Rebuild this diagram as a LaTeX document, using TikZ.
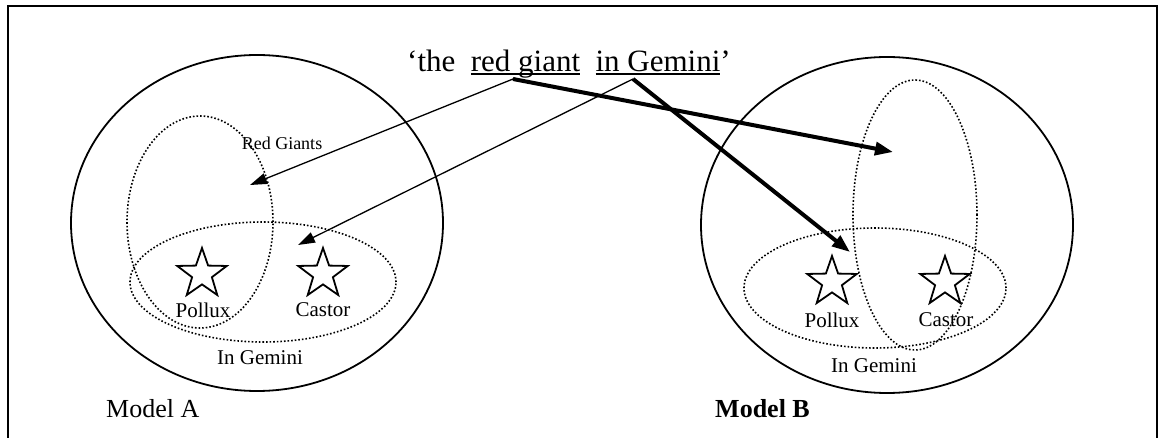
\documentclass[tikz,border=0pt]{standalone}
\usepackage{fontspec}
\setmainfont{Liberation Serif}
\usetikzlibrary{arrows.meta,shapes.geometric}
\newsavebox\ulbox
\newcommand\myul[1]{\sbox\ulbox{#1}\rlap{\rule[-0.1em]{\wd\ulbox}{0.055em}}\usebox\ulbox}
\tikzset{
  model/.style={draw, line width=1.8bp, ellipse, inner sep=0pt},
  setring/.style={draw, line width=1.6bp, dotted, ellipse, inner sep=0pt},
  starmark/.style={draw, line width=1.8bp, star, star points=5, star point ratio=2.5, minimum size=52bp, inner sep=0pt},
  lab/.style={font=\fontsize{21bp}{24bp}\selectfont, inner sep=0pt},
  ttl/.style={inner sep=0pt, anchor=base west, font=\fontsize{31bp}{36bp}\selectfont},
  mdl/.style={inner sep=0pt, anchor=base west, font=\fontsize{26bp}{30bp}\selectfont},
  thinarrow/.style={line width=1.3bp, -{Triangle[length=17bp,width=11bp]}},
  thickarrow/.style={line width=4bp, -{Triangle[length=18bp,width=13bp]}},
  frameline/.style={line width=2bp}
}
\begin{document}
\begin{tikzpicture}[x=1bp,y=-1bp]
\useasboundingbox (0,0) rectangle (1158,438);
% frame
\coordinate (f1) at (8,440);
\coordinate (f2) at (8,6);
\coordinate (f3) at (1157,6);
\coordinate (f4) at (1157,440);
\draw[frameline] (f1) -- (f2) -- (f3) -- (f4);
% title
\node[ttl] (tthe) at (407,72) {‘the};
\node[ttl] (trg) at ([xshift=15bp]tthe.base east) {\myul{red giant}};
\node[ttl] (tig) at ([xshift=15bp]trg.base east) {\myul{in Gemini}’};
% Model A
\node[model, minimum width=372bp, minimum height=336bp] (ma) at (257,223) {};
\node[setring, minimum width=146bp, minimum height=212bp] (redA) at (200,222) {};
\node[setring, minimum width=266bp, minimum height=120bp] (gemA) at (263,282) {};
\node[lab, font=\fontsize{18bp}{20bp}\selectfont] (rgA) at (282,143) {Red Giants};
\node[starmark] (sA1) at (202,274) {};
\node[starmark] (sA2) at (323,274) {};
\node[lab] (pA) at (203,310) {Pollux};
\node[lab] (cA) at (323,310) {Castor};
\node[lab] (igA) at (260,358) {In Gemini};
\node[mdl] (mA) at (106,418) {Model A};
% Model B
\node[model, minimum width=372bp, minimum height=336bp] (mb) at (887,225) {};
\node[setring, minimum width=124bp, minimum height=270bp] (redB) at (915,215) {};
\node[setring, minimum width=262bp, minimum height=120bp] (gemB) at (875,288) {};
\node[starmark] (sB1) at (832,282) {};
\node[starmark] (sB2) at (945,282) {};
\node[lab] (pB) at (832,320) {Pollux};
\node[lab] (cB) at (946,320) {Castor};
\node[lab] (igB) at (874,366) {In Gemini};
\node[mdl, font=\bfseries\fontsize{26bp}{30bp}\selectfont] (mB) at (715,418) {Model B};
% arrows
\coordinate (o1) at (513,79);
\coordinate (o2) at (633,79);
\coordinate (t1) at (250,185);
\coordinate (t2) at (298,245);
\coordinate (t3) at (893,152);
\coordinate (t4) at (850,252);
\draw[thinarrow] (o1) -- (t1);
\draw[thinarrow] (o2) -- (t2);
\draw[thickarrow] (o1) -- (t3);
\draw[thickarrow] (o2) -- (t4);
\end{tikzpicture}
\end{document}
